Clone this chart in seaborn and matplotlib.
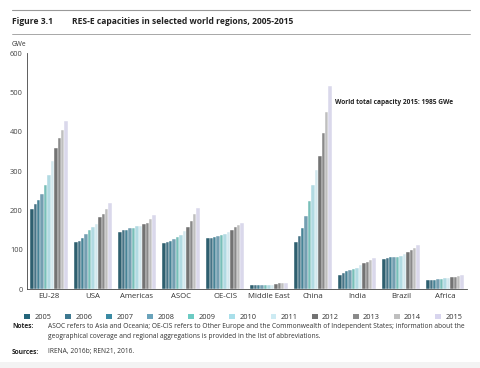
import matplotlib
matplotlib.use("Agg")
import matplotlib.pyplot as plt
import seaborn as sns
import pandas as pd
import numpy as np
from matplotlib.lines import Line2D
from matplotlib.patches import Patch, Rectangle

regions = ["EU-28", "USA", "Americas", "ASOC", "OE-CIS", "Middle East", "China", "India", "Brazil", "Africa"]
years = ["2005", "2006", "2007", "2008", "2009", "2010", "2011", "2012", "2013", "2014", "2015"]

eu28 = [204, 215, 226, 242, 264, 290, 325, 359, 384, 404, 428]
usa = [120, 123, 130, 139, 149, 157, 165, 182, 190, 203, 218]
americas = [146, 149, 151, 154, 156, 159, 160, 165, 169, 179, 187]
asoc = [116, 119, 123, 127, 132, 138, 147, 158, 172, 190, 207]
oecis = [130, 130, 132, 134, 137, 141, 144, 151, 158, 163, 168]
middle_east = [9, 9.5, 10, 10, 11, 11, 11, 13, 14, 14, 16]
china = [119, 134, 155, 186, 225, 265, 303, 337, 397, 451, 517]
india = [36, 40, 45, 48, 51, 54, 60, 65, 68, 73, 80]
brazil = [76, 78, 81, 82, 82, 84, 89, 95, 99, 105, 113]
africa = [24, 24, 24, 25, 26, 27, 27, 30, 30, 32, 35]

series = [eu28, usa, americas, asoc, oecis, middle_east, china, india, brazil, africa]
colors = ["#23657a", "#3d7890", "#3a8aa3", "#6aa3bb", "#6ccbc3", "#a9dfea",
          "#cdebf3", "#737373", "#8a8a8a", "#bfbfbf", "#d8d5ee"]

rows = []
for r, vals in zip(regions, series):
    for y, v in zip(years, vals):
        rows.append({"region": r, "year": y, "value": v})
df = pd.DataFrame(rows)

sns.set_style("white")
plt.rcParams["font.family"] = ["Open Sans", "DejaVu Sans"]

fig = plt.figure(figsize=(4.8, 3.68), dpi=100)
fig.add_artist(Rectangle((0, 0), 1, 6/368, transform=fig.transFigure, facecolor="#f3f3f3",
                         edgecolor="none", zorder=0))
ax = fig.add_axes([27/480, 1-289/368, (467-27)/480, (289-53)/368])

sns.barplot(data=df, x="region", y="value", hue="year", order=regions, hue_order=years,
            palette=colors, width=0.86, ax=ax, edgecolor="white", linewidth=0.3,
            errorbar=None, legend=False)

ax.set_ylim(0, 600)
ax.set_xlim(-0.5, 9.5)
ax.set_yticks(range(0, 601, 100))
ax.set_xlabel("")
ax.set_ylabel("")
for s in ["top", "right"]:
    ax.spines[s].set_visible(False)
for s in ["left", "bottom"]:
    ax.spines[s].set_color("#444444")
    ax.spines[s].set_linewidth(0.6)
ax.tick_params(axis="y", labelsize=5.4, colors="#444444", length=2, width=0.6, pad=1)
ax.tick_params(axis="x", which="major", labelsize=5.6, colors="#333333", length=0, pad=3)
ax.set_xticks(np.arange(-0.5, 10, 1), minor=True)
ax.tick_params(axis="x", which="minor", length=2, width=0.6, color="#444444")

ax.text(6.5, 475, "World total capacity 2015: 1985 GWe", fontsize=4.8, fontweight="bold",
        color="#222222", va="center", ha="left")

# header
fig.add_artist(Line2D([12/480, 470/480], [1-10/368, 1-10/368], color="#999999", lw=0.8))
fig.add_artist(Line2D([12/480, 470/480], [1-34/368, 1-34/368], color="#999999", lw=0.6))
fig.text(12/480, 1-22/368, "Figure 3.1", fontsize=6.1, fontweight="bold", va="center", color="#222222")
fig.text(72/480, 1-22/368, "RES-E capacities in selected world regions, 2005-2015", fontsize=6.1,
         fontweight="bold", va="center", color="#222222")
fig.text(12/480, 1-44/368, "GWe", fontsize=4.8, va="center", color="#333333")

# legend
handles = [Patch(facecolor=c, edgecolor="none") for c in colors]
fig.legend(handles, years, loc="lower left", bbox_to_anchor=(24/480, 1-321/368, (462-24)/480, 12/368),
           mode="expand", ncol=11, frameon=False, borderaxespad=0, borderpad=0,
           fontsize=5.3, handlelength=0.8, handleheight=0.8, handletextpad=0.6, columnspacing=1.0,
           labelcolor="#333333")

# notes
fig.text(12/480, 1-327/368, "Notes:", fontsize=4.75, fontweight="bold", va="center", color="#222222")
fig.text(48/480, 1-327/368,
         "ASOC refers to Asia and Oceania; OE-CIS refers to Other Europe and the Commonwealth of Independent States; information about the",
         fontsize=4.75, va="center", color="#333333")
fig.text(48/480, 1-336/368,
         "geographical coverage and regional aggregations is provided in the list of abbreviations.",
         fontsize=4.75, va="center", color="#333333")
fig.text(12/480, 1-352/368, "Sources:", fontsize=4.75, fontweight="bold", va="center", color="#222222")
fig.text(48/480, 1-352/368, "IRENA, 2016b; REN21, 2016.", fontsize=4.75, va="center", color="#333333")

fig.savefig("out.png", dpi=100)
